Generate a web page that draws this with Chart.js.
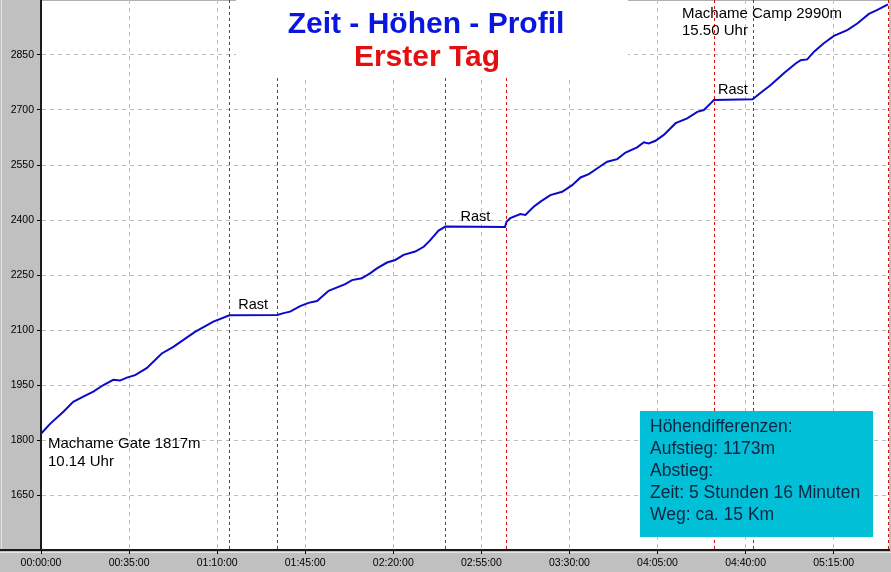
<!DOCTYPE html>
<html>
<head>
<meta charset="utf-8">
<script src="https://cdn.jsdelivr.net/npm/chart.js@4.4.1/dist/chart.umd.min.js"></script>
<style>
  html, body { margin: 0; padding: 0; background: #c0c0c0; }
  canvas { display: block; }
</style>
</head>
<body>
<canvas id="profil" width="891" height="572"></canvas>
<script>
// --- DONNÉES ---
// minutes depuis le départ (10.14 Uhr)
const elapsedMin = [
  0, 3.6, 8.9, 12.8, 16.8, 20.8, 24.8, 28.7, 31.4, 34.1, 37.4, 42.0, 48.0, 52.6, 56.6, 61.2, 68.5, 74.9,
  93.9, 96.4, 99.0, 103.0, 106.3, 109.7, 114.3, 120.9, 123.6, 127.5, 130.9, 133.5, 137.5, 140.8, 144.1,
  148.7, 152.1, 154.7, 158.0, 160.7,
  184.4, 185.0, 186.5, 190.5, 192.5, 195.8, 198.5, 202.4, 207.1, 211.1, 214.4, 217.7, 221.7, 225.0, 229.0,
  232.3, 236.9, 239.6, 241.5, 244.2, 247.5, 252.2, 256.8, 260.8, 263.4, 266.1, 267.4,
  282.8, 286.0, 290.0, 295.2, 299.9, 301.9, 304.5, 307.2, 311.1, 315.1, 320.4, 324.4, 329.0, 332.4, 336.6
];
// altitude en m
const altitude = [
  1817, 1844, 1877, 1904, 1918, 1932, 1950, 1964, 1962, 1970, 1977, 1996, 2036, 2054, 2073, 2095, 2123, 2140,
  2141, 2146, 2150, 2165, 2174, 2179, 2207, 2225, 2236, 2241, 2255, 2268, 2284, 2291, 2305,
  2314, 2327, 2345, 2371, 2382,
  2381, 2395, 2405, 2416, 2414, 2436, 2450, 2468, 2477, 2495, 2516, 2525, 2544, 2559, 2566,
  2584, 2598, 2612, 2609, 2616, 2632, 2664, 2677, 2695, 2700, 2718, 2727,
  2729, 2747, 2768, 2800, 2827, 2836, 2838, 2859, 2882, 2902, 2918, 2936, 2962, 2973, 2988
];

const xTicks = [0, 35, 70, 105, 140, 175, 210, 245, 280, 315];
const yTicks = [1650, 1800, 1950, 2100, 2250, 2400, 2550, 2700, 2850];

// lignes rouges (début / fin des pauses + arrivée)
const markerMin = [74.8, 93.9, 160.7, 184.6, 267.3, 282.8, 336.6];
// pauses : milieu (min) et altitude
const restMid = [84.3, 172.6, 275.0];
const restAlt = [2141, 2381, 2728];

const infoLines = [
  'Höhendifferenzen:',
  'Aufstieg: 1173m',
  'Abstieg:',
  'Zeit: 5 Stunden 16 Minuten',
  'Weg: ca. 15 Km'
];

const FONT = '"Liberation Sans", Arial, sans-serif';

function pad(n) { return String(n).padStart(2, '0'); }
function fmtTime(m) { return pad(Math.floor(m / 60)) + ':' + pad(m % 60) + ':00'; }

// --- DÉCOR (fonds, titres, annotations) ---
const decor = {
  id: 'decor',
  beforeDraw(chart) {
    const { ctx, chartArea: a } = chart;
    ctx.save();
    ctx.fillStyle = '#c0c0c0';
    ctx.fillRect(0, 0, chart.width, chart.height);
    // petit relief clair
    ctx.fillStyle = '#e4e4e4';
    ctx.fillRect(1, 0, 1, a.bottom);
    ctx.fillRect(0, a.bottom + 2, chart.width, 1);
    ctx.fillStyle = '#ffffff';
    ctx.fillRect(a.left, a.top, a.right - a.left, a.bottom - a.top);
    // bord haut
    ctx.fillStyle = '#b0b0b0';
    ctx.fillRect(a.left, a.top, a.right - a.left, 1);
    ctx.restore();
  },
  beforeDatasetsDraw(chart) {
    const { ctx, chartArea: a, scales: { x } } = chart;
    ctx.save();
    ctx.strokeStyle = '#cc1111';
    ctx.lineWidth = 1;
    ctx.setLineDash([3, 3]);
    markerMin.forEach(m => {
      const px = Math.round(x.getPixelForValue(m)) + 0.5;
      ctx.beginPath();
      ctx.moveTo(px, a.top);
      ctx.lineTo(px, a.bottom);
      ctx.stroke();
    });
    ctx.setLineDash([]);

    // cadre blanc du titre
    ctx.fillStyle = '#ffffff';
    ctx.fillRect(236, 0, 392, 78);
    ctx.textAlign = 'center';
    ctx.textBaseline = 'alphabetic';
    ctx.font = 'bold 30px ' + FONT;
    ctx.fillStyle = '#0a16e0';
    ctx.fillText('Zeit - Höhen - Profil', 426, 33);
    ctx.fillStyle = '#e41010';
    ctx.fillText('Erster Tag', 427, 66);
    ctx.restore();
  },
  afterDatasetsDraw(chart) {
    const { ctx, chartArea: a, scales: { x, y } } = chart;
    ctx.save();
    ctx.fillStyle = '#000000';
    ctx.textBaseline = 'alphabetic';

    // "Rast"
    ctx.font = '14.5px ' + FONT;
    ctx.textAlign = 'center';
    restMid.forEach((m, i) => {
      ctx.fillText('Rast', x.getPixelForValue(m), y.getPixelForValue(restAlt[i]) - 6);
    });

    // départ / arrivée
    ctx.textAlign = 'left';
    ctx.font = '15px ' + FONT;
    ctx.fillText('Machame Gate 1817m', a.left + 7, 448);
    ctx.fillText('10.14 Uhr', a.left + 7, 466);
    ctx.fillText('Machame Camp 2990m', 682, 18);
    ctx.fillText('15.50 Uhr', 682, 35);

    // encadré résumé
    ctx.fillStyle = '#00bfd6';
    ctx.fillRect(640, 411, 233, 126);
    ctx.fillStyle = '#0f2440';
    ctx.font = '17.5px ' + FONT;
    infoLines.forEach((t, i) => ctx.fillText(t, 650, 432 + i * 22));

    // prolongement de l'axe X sous le panneau gauche
    ctx.fillStyle = '#1a1a1a';
    ctx.fillRect(0, a.bottom - 1, a.left, 2);
    ctx.restore();
  }
};

// --- GRAPHIQUE ---
const points = elapsedMin.map((m, i) => ({ x: m, y: altitude[i] }));

new Chart(document.getElementById('profil'), {
  type: 'line',
  data: {
    datasets: [{
      data: points,
      borderColor: '#0a0ac8',
      borderWidth: 2,
      pointRadius: 0,
      tension: 0,
      fill: false
    }]
  },
  options: {
    responsive: false,
    animation: false,
    layout: { padding: { left: 0, right: 2, top: 0, bottom: 0 } },
    plugins: {
      legend: { display: false },
      tooltip: { enabled: false }
    },
    scales: {
      x: {
        type: 'linear',
        min: 0,
        max: 337,
        afterBuildTicks: s => { s.ticks = xTicks.map(v => ({ value: v })); },
        afterFit: s => { s.height = 22; s.paddingLeft = 0; s.paddingRight = 0; },
        grid: { color: '#bdbdbd', lineWidth: 1, tickLength: 4, tickColor: '#000000' },
        border: { display: true, color: '#1a1a1a', width: 2, dash: [4, 4] },
        ticks: {
          color: '#000000',
          padding: 3,
          maxRotation: 0,
          autoSkip: false,
          font: { family: FONT, size: 10.5 },
          callback: v => fmtTime(v)
        }
      },
      y: {
        min: 1500,
        max: 3000,
        afterBuildTicks: s => { s.ticks = yTicks.map(v => ({ value: v })); },
        afterFit: s => { s.width = 41; s.paddingTop = 0; s.paddingBottom = 0; },
        grid: { color: '#bdbdbd', lineWidth: 1, tickLength: 4, tickColor: '#000000' },
        border: { display: true, color: '#1a1a1a', width: 2, dash: [4, 4] },
        ticks: {
          color: '#000000',
          padding: 3,
          font: { family: FONT, size: 10.5 },
          callback: v => String(v)
        }
      }
    }
  },
  plugins: [decor]
});
</script>
</body>
</html>
